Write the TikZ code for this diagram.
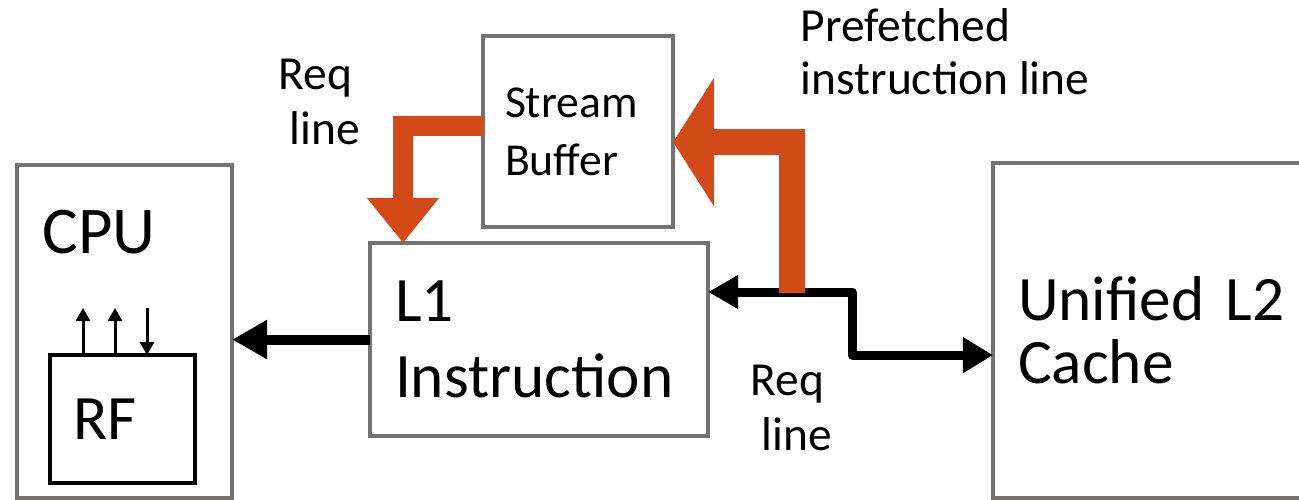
\documentclass[tikz,border=0pt]{standalone}
\usepackage{fontspec}
\setmainfont{Carlito}
\usetikzlibrary{arrows.meta,positioning}

\definecolor{boxgray}{RGB}{118,113,113}
\definecolor{pfcolor}{RGB}{210,74,24}

\tikzstyle{unit} = [draw=boxgray, line width=0.04cm, outer sep=0pt, inner ysep=0pt, anchor=north west, align=left]
\tikzstyle{bus} = [draw, line width=0.1cm, line join=round, -{Triangle[length=0.35cm,width=0.37cm]}]
\tikzstyle{regline} = [draw, line width=0.03cm]
\tikzstyle{fetch} = [draw=pfcolor, line width=0.2cm]
\tikzstyle{note} = [font=\fontsize{13.5}{15.6}\selectfont, align=left, inner sep=0pt]

\begin{document}
\begin{tikzpicture}[x=0.01cm,y=-0.01cm]
\clip (0,0) rectangle (1299,500);

% boxes
\node[unit, minimum width=2.15cm, minimum height=3.33cm] (cpu) at (17,165) {};
\node[anchor=base west, inner sep=0pt, font=\fontsize{19}{22}\selectfont] (cpulbl) at (42,253) {CPU};
\node[unit, draw=black, minimum width=1.45cm, minimum height=1.28cm, inner xsep=0.23cm, text width=0.99cm,
  font=\fontsize{18}{21}\selectfont] (rf) at (50,355) {RF};

\node[unit, minimum width=3.38cm, minimum height=1.93cm, inner xsep=0.25cm, text width=2.88cm,
  font=\fontsize{18}{21.6}\selectfont] (l1) at (370,243) {L1\\Instruction};
\node[unit, minimum width=1.90cm, minimum height=1.91cm, inner xsep=0.22cm, text width=1.46cm,
  font=\fontsize{13}{16.5}\selectfont] (sb) at (483,36) {Stream\\Buffer};
\node[unit, minimum width=3.50cm, minimum height=3.35cm, inner xsep=0.25cm, text width=3.00cm,
  font=\fontsize{18}{18}\selectfont] (l2) at (993,163) {Unified L2\\Cache};

% register file ports
\foreach \dx in {0.33cm,0.65cm}
  \draw[regline, -{Triangle[length=0.13cm,width=0.14cm]}] ([xshift=\dx]rf.north west) -- ++(0,-47);
\draw[regline, {Triangle[length=0.13cm,width=0.14cm]}-] ([xshift=0.97cm]rf.north west) -- ++(0,-47);

% data paths
\draw[bus] (l1.west) -- (l1.west -| cpu.east);
\draw[bus, line width=0.09cm, {Triangle[length=0.3cm,width=0.32cm]}-{Triangle[length=0.3cm,width=0.34cm]}]
  ([yshift=0.475cm]l1.east) -- ++(144,0) |- ([yshift=-0.245cm]l2.west);

% stream buffer traffic
\draw[fetch, -{Triangle[length=0.45cm,width=0.69cm]}] ([yshift=0.055cm]sb.west) -| ([xshift=0.33cm]l1.north west);
\draw[fetch, line width=0.26cm, -{Triangle[length=0.41cm,width=1.27cm]}]
  ([xshift=0.84cm,yshift=0.47cm]l1.east) |- ([yshift=-0.105cm]sb.east);

% labels (base = last line)
\node[note, anchor=base west] (reqtop) at (278,144) {Req\\\ line};
\node[note, anchor=base west, font=\fontsize{13.5}{14.8}\selectfont] (pfline) at (800,94) {Prefetched\\instruction line};
\node[note, anchor=base west] (reqbot) at (750,450) {Req\\\ line};
\end{tikzpicture}
\end{document}
